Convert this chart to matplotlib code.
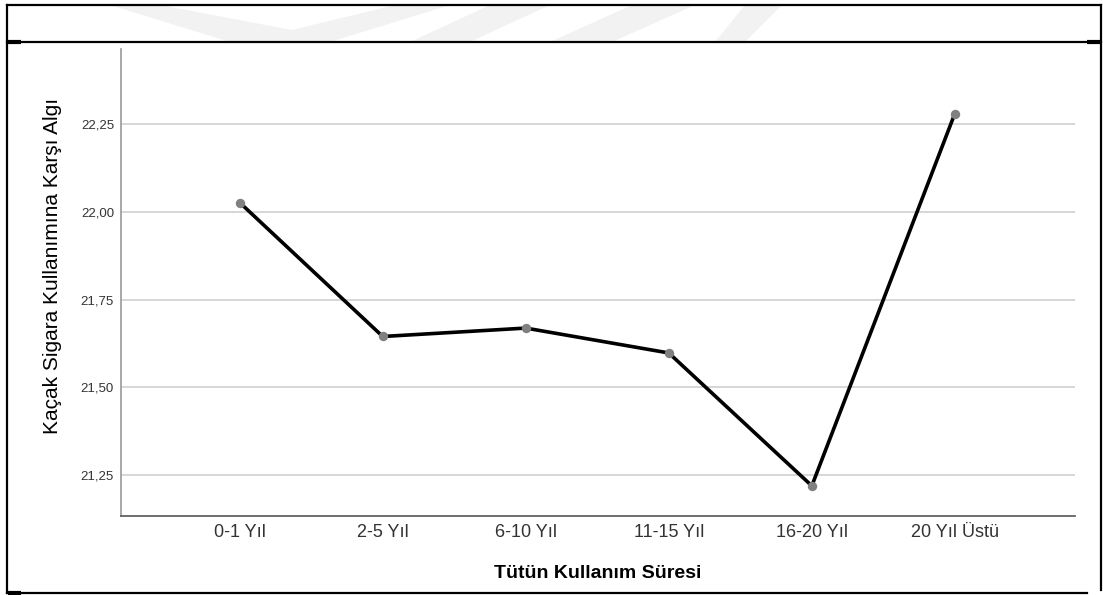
import matplotlib.pyplot as plt
from matplotlib.lines import Line2D
from matplotlib.patches import Polygon
from matplotlib.ticker import FuncFormatter

plt.rcParams['font.family'] = ['Liberation Sans', 'DejaVu Sans']

categories = ['0-1 Yıl', '2-5 Yıl', '6-10 Yıl', '11-15 Yıl', '16-20 Yıl', '20 Yıl Üstü']
means = [22.027, 21.645, 21.669, 21.598, 21.219, 22.281]
yticks = [21.25, 21.50, 21.75, 22.00, 22.25]

W, H = 1103, 595
fig = plt.figure(figsize=(W / 100, H / 100), dpi=100)


def fx(px):
    return px / W


def fy(py):
    return 1 - py / H


# faint watermark in the top band
wm = [
    [(110, 5), (160, 5), (292, 30), (395, 5), (450, 5), (330, 42), (230, 42)],
    [(490, 5), (550, 5), (470, 42), (410, 42)],
    [(632, 5), (695, 5), (612, 42), (550, 42)],
    [(745, 5), (782, 5), (745, 42), (715, 42)],
]
for pts in wm:
    fig.add_artist(Polygon([(fx(x), fy(y)) for x, y in pts], closed=True,
                           facecolor='#f2f2f2', edgecolor='none',
                           transform=fig.transFigure, zorder=0))

# outer frame
frame = [((7, 5), (1101, 5)), ((7, 42), (1101, 42)), ((7, 593), (1087, 593)),
         ((7, 5), (7, 593)), ((1101, 5), (1101, 590))]
for (x0, y0), (x1, y1) in frame:
    fig.add_artist(Line2D([fx(x0), fx(x1)], [fy(y0), fy(y1)], color='black',
                          lw=1.6, transform=fig.transFigure))
for (x0, x1, y) in [(8, 21, 42), (1087, 1100, 42), (8, 21, 593)]:
    fig.add_artist(Line2D([fx(x0), fx(x1)], [fy(y), fy(y)], color='black',
                          lw=3, solid_capstyle='butt', transform=fig.transFigure))

ax = fig.add_axes([fx(121), fy(516), fx(1075 - 121), (516 - 49) / H])
x = list(range(len(categories)))
ax.plot(x, means, color='black', lw=2.6, zorder=3, solid_joinstyle='round')
ax.scatter(x, means, s=46, color='#808080', zorder=4, linewidths=0)

ax.set_xlim(-0.83, 5.84)
ax.set_ylim(21.133, 22.465)
ax.set_yticks(yticks)
ax.yaxis.set_major_formatter(FuncFormatter(lambda v, p: f'{v:.2f}'.replace('.', ',')))
ax.set_xticks(x)
ax.set_xticklabels(categories)
ax.grid(axis='y', color='#d6d6d6', lw=1.4)
ax.set_axisbelow(True)

for s in ['top', 'right']:
    ax.spines[s].set_visible(False)
ax.spines['left'].set_color('#9a9a9a')
ax.spines['left'].set_linewidth(1.2)
ax.spines['bottom'].set_color('#555555')
ax.spines['bottom'].set_linewidth(1.2)
ax.tick_params(axis='both', length=0, colors='#333333')
ax.tick_params(axis='y', labelsize=9.5, pad=5)
ax.tick_params(axis='x', labelsize=13, pad=6)

ax.set_ylabel('Kaçak Sigara Kullanımına Karşı Algı', fontsize=15, color='black')
ax.yaxis.set_label_coords((62 - 121) / 954, (516 - 266) / 467)
ax.set_xlabel('Tütün Kullanım Süresi', fontsize=14, fontweight='bold', color='black', labelpad=17)

fig.savefig('out.png', dpi=100)
